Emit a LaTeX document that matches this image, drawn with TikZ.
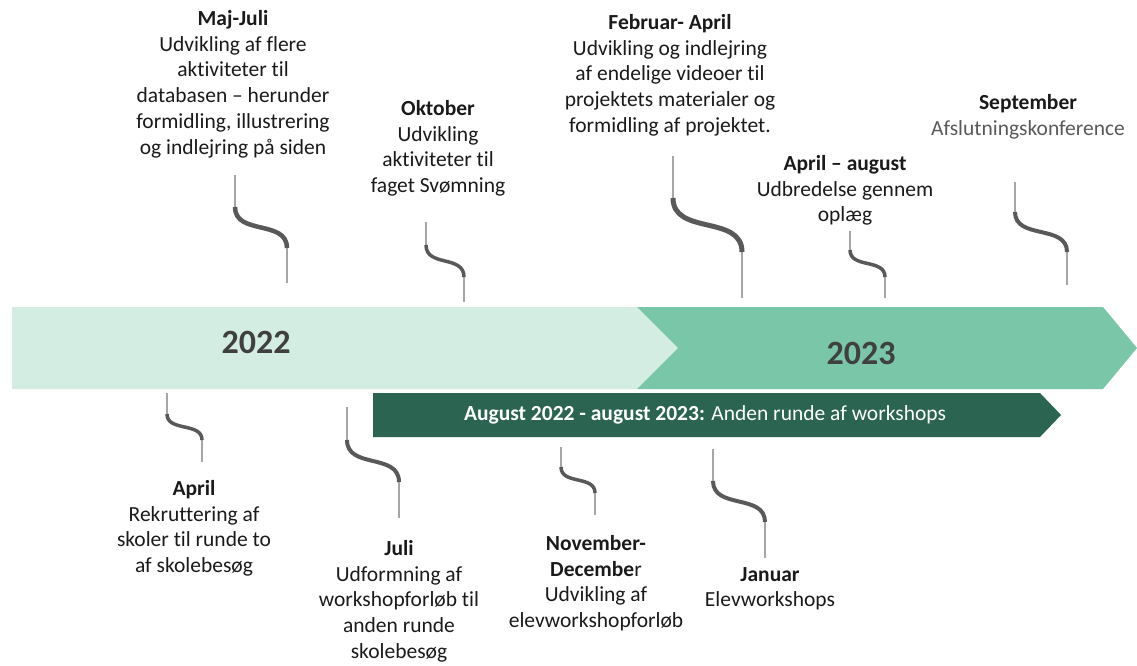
\documentclass[tikz,border=0pt]{standalone}
\usepackage{fontspec}
\setmainfont[Ligatures=NoCommon]{Carlito}
\definecolor{lightband}{HTML}{D4EDE3}
\definecolor{midband}{HTML}{7AC6A8}
\definecolor{darkbar}{HTML}{2B6451}
\definecolor{thinline}{HTML}{A6A6A6}
\definecolor{thickline}{HTML}{595959}
\definecolor{yeartext}{HTML}{404040}
\definecolor{bodytext}{HTML}{1A1A1A}
\definecolor{softtext}{HTML}{595959}
\newcommand{\sconn}[8]{%
  % #1 name, #2 x1, #3 ytop, #4 y1, #5 x2, #6 y2, #7 ybot, #8 thick width
  \coordinate (#1t) at (#2,#3);
  \coordinate (#1a) at (#2,#4);
  \coordinate (#1b) at (#5,#6);
  \coordinate (#1e) at (#5,#7);
  \draw[thinstem] (#1t) -- (#1a);
  \draw[thinstem] (#1b) -- (#1e);
  \draw[swirl,line width=#8] (#1a) .. controls ($(#1a)!0.7!(#2,#6)$) and ($(#1b)!0.7!(#5,#4)$) .. (#1b);
}
\usetikzlibrary{calc}
\begin{document}
\begin{tikzpicture}[x=1pt,y=-1pt,
  thinstem/.style={draw=thinline,line width=1.8pt},
  swirl/.style={draw=thickline},
  milestone/.style={align=center,inner sep=0pt,anchor=north,text=bodytext,
    font=\fontsize{21.5}{25.8}\selectfont},
  yearlabel/.style={font=\fontsize{34}{40}\selectfont\bfseries,text=yeartext,inner sep=0pt},
  bartext/.style={font=\fontsize{21.5}{25.8}\selectfont,text=white,inner sep=0pt}
]
\useasboundingbox (0,0) rectangle (1137,666);
% bands
\fill[lightband] (12,307) -- (637,307) -- (678,348) -- (637,389) -- (12,389) -- cycle;
\fill[midband] (637,307) -- (1103,307) -- (1137,348) -- (1103,389) -- (637,389) -- (678,348) -- cycle;
\fill[darkbar] (373,393) -- (1040,393) -- (1061,415) -- (1040,437) -- (373,437) -- cycle;
\node[yearlabel] (y22) at (256,342) {2022};
\node[yearlabel] (y23) at (861,353) {2023};
\node[bartext] (bar) at (705,415) {\textbf{August 2022 - august 2023:} Anden runde af workshops};
% connectors
\sconn{majjuli}{235}{175}{207}{287}{248}{283}{4.5pt}
\sconn{okt}{426}{222}{245}{464}{277}{302}{3.5pt}
\sconn{feb}{673}{156}{198}{742}{252}{298}{5pt}
\sconn{apraug}{850}{231}{250}{885}{277}{298}{3.5pt}
\sconn{sep}{1015}{182}{212}{1067}{252}{285}{4pt}
\sconn{apr}{167}{393}{414}{202}{440}{462}{3.5pt}
\sconn{juli}{347}{407}{440}{399}{482}{518}{4pt}
\sconn{nov}{561}{447}{467}{595}{493}{515}{3.5pt}
\sconn{jan}{713}{449}{481}{765}{522}{558}{4pt}
% texts
\node[milestone] (tmajjuli) at (233,10) {\textbf{Maj-Juli}\\Udvikling af flere\\aktiviteter til\\databasen – herunder\\formidling, illustrering\\og indlejring på siden};
\node[milestone] (tokt) at (438,100) {\textbf{Oktober}\\Udvikling\\aktiviteter til\\faget Svømning};
\node[milestone] (tfeb) at (670,14) {\textbf{Februar- April}\\Udvikling og indlejring\\af endelige videoer til\\projektets materialer og\\formidling af projektet.};
\node[milestone] (taprau) at (845,155) {\textbf{April – august}\\Udbredelse gennem\\oplæg};
\node[milestone] (tsep) at (1028,94) {\textbf{September}\\\textcolor{softtext}{Afslutningskonference}};
\node[milestone] (tapr) at (194,480) {\textbf{April}\\Rekruttering af\\skoler til runde to\\af skolebesøg};
\node[milestone] (tjuli) at (399,540) {\textbf{Juli}\\Udformning af\\workshopforløb til\\anden runde\\skolebesøg};
\node[milestone] (tnov) at (596,535) {\textbf{November-}\\\textbf{Decembe}r\\Udvikling af\\elevworkshopforløb};
\node[milestone] (tjan) at (770,567) {\textbf{Januar}\\Elevworkshops};
\end{tikzpicture}
\end{document}
